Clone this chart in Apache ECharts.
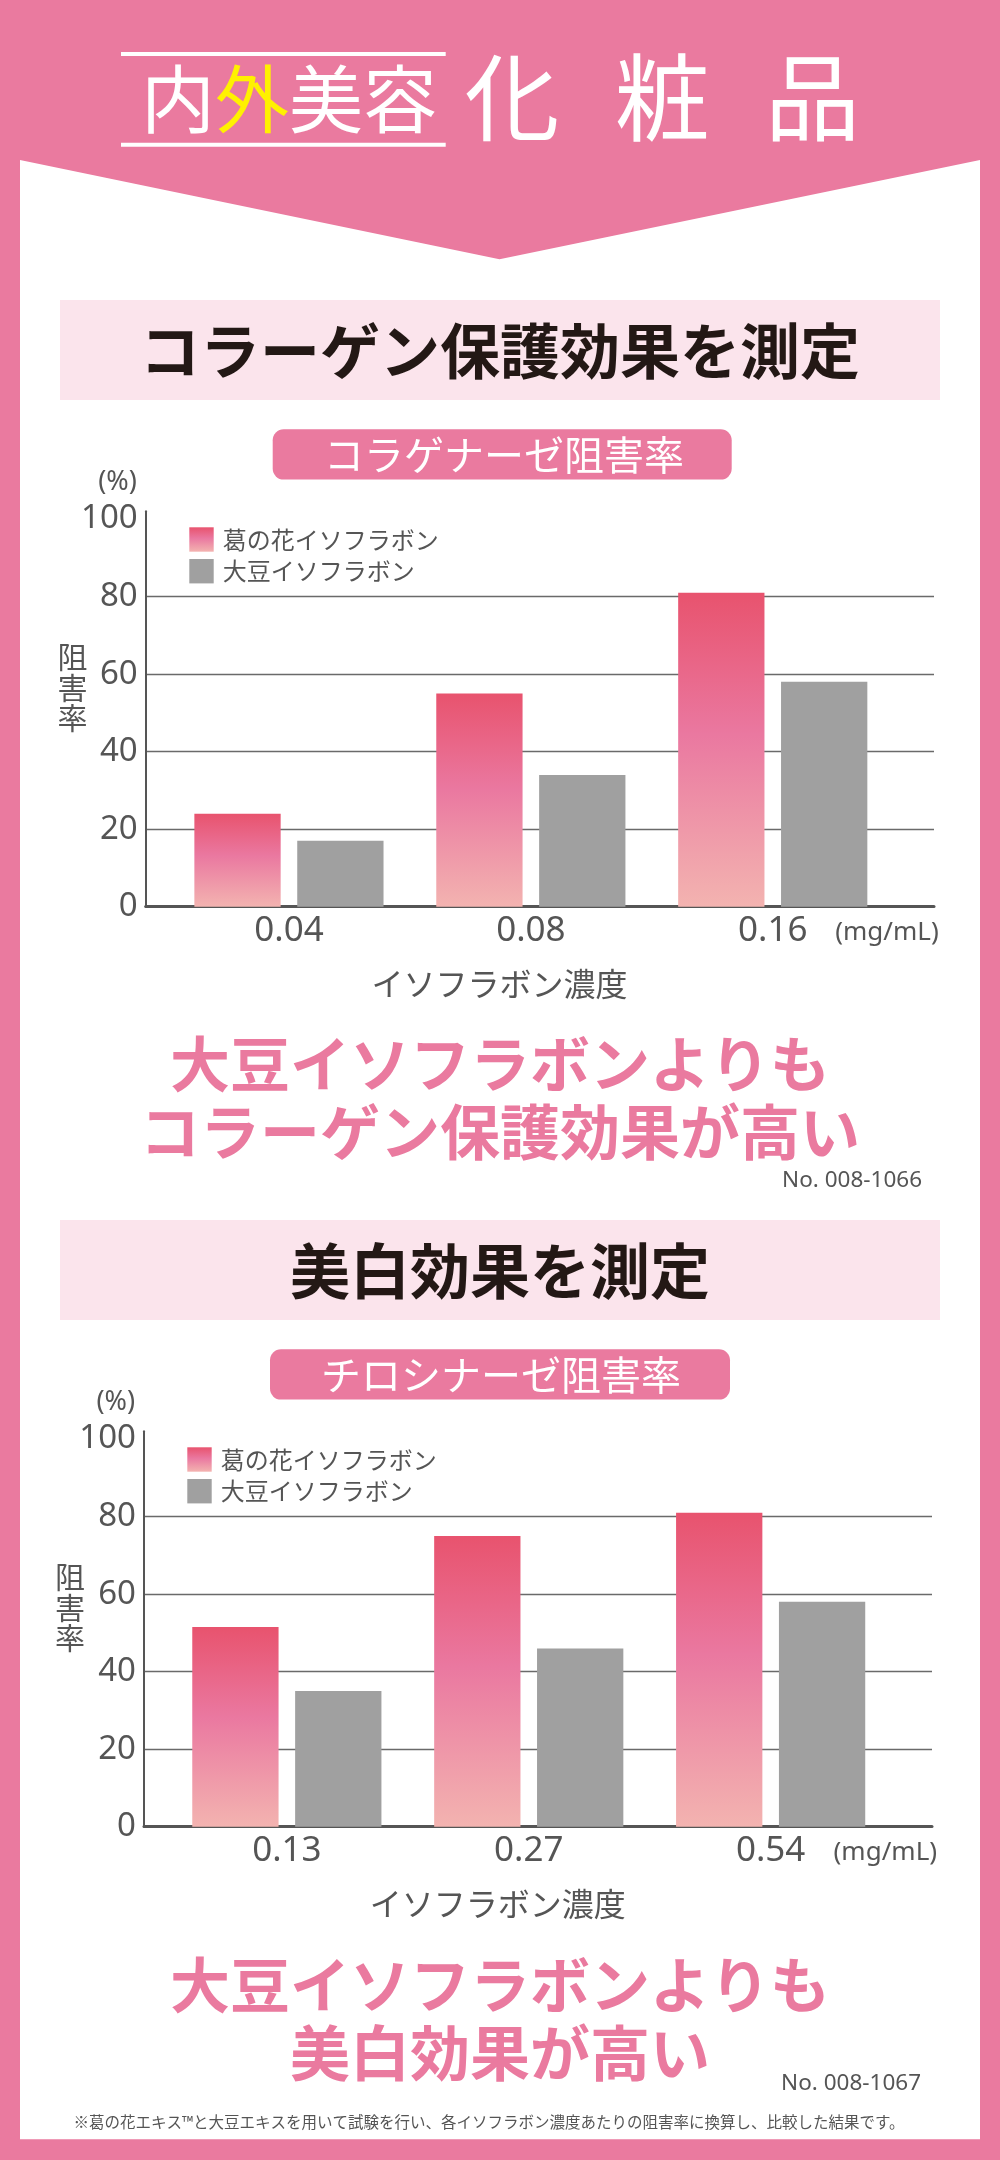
<!DOCTYPE html>
<html><head><meta charset="utf-8">
<script src="https://cdn.jsdelivr.net/npm/echarts@6/dist/echarts.min.js"></script>
<style>html,body{margin:0;padding:0;background:#fff}#c{width:1000px;height:2160px}</style>
</head><body><div id="c"></div>
<script>
// ---- data ----
const categoriesA = ['0.04', '0.08', '0.16'];
const kakkonA = [24, 55, 81];
const soyA = [17, 34, 58];
const categoriesB = ['0.13', '0.27', '0.54'];
const kakkonB = [51.5, 75, 81];
const soyB = [35, 46, 58];
const seriesNames = ['葛の花イソフラボン', '大豆イソフラボン'];
const yMin = 0, yMax = 100, yInterval = 20;
const yTickLabels = ['0', '20', '40', '60', '80', '100'];

// ---- style ----
const PINK = '#EA7A9F';
const GRAY_TXT = '#555555';
const CJK = '"Noto Sans CJK JP", sans-serif';
const LAT = '"Noto Sans", "Noto Sans CJK JP", sans-serif';
const pinkGrad = { type: 'linear', x: 0, y: 0, x2: 0, y2: 1, colorStops: [
  { offset: 0, color: '#E8536E' }, { offset: 0.45, color: '#EA78A0' }, { offset: 1, color: '#F3B3B0' }] };

const panels = [
  { dy: 0, axisLeft: 145.7, axisRight: 934, barLeft: 168, cats: categoriesA, k: kakkonA, s: soyA,
    legendLeft: 189.3, pct: [117.5, 482], yname: [72.5, 687.5], xname: [499.5, 983.5], unit: [887, 933],
    title: 'コラーゲン保護効果を測定', pill: 'コラゲナーゼ阻害率', pillX: 272.7, pillW: 459, pillTextX: 504,
    concl: ['大豆イソフラボンよりも', 'コラーゲン保護効果が高い'], conclY: [1064, 1132.5], no: 'No. 008-1066', noPos: [922, 1180.5] },
  { dy: 920, axisLeft: 144, axisRight: 932, barLeft: 165.9, cats: categoriesB, k: kakkonB, s: soyB,
    legendLeft: 187.3, pct: [115.8, 1402], yname: [70, 1607.5], xname: [497.8, 1904], unit: [885.3, 1853],
    title: '美白効果を測定', pill: 'チロシナーゼ阻害率', pillX: 270, pillW: 460, pillTextX: 501,
    concl: ['大豆イソフラボンよりも', '美白効果が高い'], conclY: [1985, 2053], no: 'No. 008-1067', noPos: [921, 2083.3] }
];
const plotTop = 511.3, plotH = 395.4, yExt = 2, bandW = 725.7;

const grid = [], xAxis = [], yAxis = [], series = [], legend = [];
const graphics = [];
function txt(text, x, y, size, color, extra) {
  return { type: 'text', x: x, y: y, z: 100, style: Object.assign({ text: text, fill: color, fontSize: size,
    fontFamily: CJK, align: 'center', verticalAlign: 'middle', textAlign: 'center', textVerticalAlign: 'middle' }, extra || {}) };
}

// background
graphics.push({ type: 'rect', z: -100, shape: { x: 0, y: 0, width: 1000, height: 2160 }, style: { fill: PINK } });
graphics.push({ type: 'polygon', z: -99, shape: { points: [[20, 160], [499.5, 259.3], [980, 160], [980, 2139.3], [20, 2139.3]] }, style: { fill: '#ffffff' } });
// header
graphics.push({ type: 'rect', z: 50, shape: { x: 121, y: 52, width: 324.7, height: 4 }, style: { fill: '#ffffff' } });
graphics.push({ type: 'rect', z: 50, shape: { x: 121, y: 142.7, width: 324.7, height: 4 }, style: { fill: '#ffffff' } });
graphics.push(txt('内{y|外}美容', 289, 98.5, 74, '#ffffff', { rich: { y: { fill: '#FFF100', fontSize: 74, fontFamily: CJK } } }));
['化', '粧', '品'].forEach(function (ch, i) { graphics.push(txt(ch, 512 + i * 150.3, 97.5, 95, '#ffffff')); });

panels.forEach(function (p, i) {
  const gi = i * 2;
  const top = plotTop + p.dy;
  grid.push({ left: p.axisLeft, top: top, width: p.axisRight - p.axisLeft, height: plotH });
  grid.push({ left: p.barLeft, top: top, width: bandW, height: plotH });
  xAxis.push({ gridIndex: gi, type: 'value', min: 0, max: 1,
    axisLine: { show: true, lineStyle: { color: GRAY_TXT, width: 3 } }, axisTick: { show: false },
    axisLabel: { show: false }, splitLine: { show: false } });
  xAxis.push({ gridIndex: gi + 1, type: 'category', data: p.cats,
    axisLine: { show: false }, axisTick: { show: false },
    axisLabel: { color: GRAY_TXT, fontSize: 35, fontFamily: LAT, margin: 7 } });
  yAxis.push({ gridIndex: gi, type: 'value', min: yMin, max: yMax + yExt, interval: yInterval,
    axisLine: { show: true, lineStyle: { color: GRAY_TXT, width: 2 } }, axisTick: { show: false },
    axisLabel: { color: GRAY_TXT, fontSize: 33, fontFamily: LAT, margin: 8, showMaxLabel: false, padding: [0, 0, 7, 0],
      formatter: function (v) { return v > yMax ? '' : yTickLabels[Math.round(v / yInterval)]; } },
    splitLine: { show: true, lineStyle: { width: 1.3, color: ['rgba(0,0,0,0)', '#6a6a6a', '#6a6a6a', '#6a6a6a', '#6a6a6a', 'rgba(0,0,0,0)', 'rgba(0,0,0,0)'] } } });
  yAxis.push({ gridIndex: gi + 1, type: 'value', min: yMin, max: yMax + yExt, show: false, splitLine: { show: false } });
  series.push({ type: 'bar', name: seriesNames[0], xAxisIndex: gi + 1, yAxisIndex: gi + 1, data: p.k,
    barWidth: 86.3, barGap: '19.2%', itemStyle: { color: pinkGrad } });
  series.push({ type: 'bar', name: seriesNames[1], xAxisIndex: gi + 1, yAxisIndex: gi + 1, data: p.s,
    barWidth: 86.3, barGap: '19.2%', itemStyle: { color: '#A0A0A0' } });
  legend.push({ left: p.legendLeft, top: 527.3 + p.dy, orient: 'vertical', padding: 0, itemWidth: 24.4, itemHeight: 24.4,
    itemGap: 7.3, icon: 'rect', selectedMode: false, data: seriesNames,
    textStyle: { fontSize: 24, color: GRAY_TXT, fontFamily: CJK, padding: [0, 0, 0, 4] } });

  // decorations / texts
  graphics.push({ type: 'rect', z: -50, shape: { x: 60, y: 300 + p.dy, width: 880, height: 100 }, style: { fill: '#FBE4EC' } });
  graphics.push(txt(p.title, 500, 351 + p.dy, 60, '#231815', { fontWeight: 'bold' }));
  graphics.push({ type: 'rect', z: -50, shape: { x: p.pillX, y: 429.3 + p.dy, width: p.pillW, height: 50.3, r: 11 }, style: { fill: PINK } });
  graphics.push(txt(p.pill, p.pillTextX, 455 + p.dy, 40, '#ffffff'));
  graphics.push(txt('(%)', p.pct[0], p.pct[1], 27, GRAY_TXT, { fontFamily: LAT }));
  graphics.push(txt('阻\n害\n率', p.yname[0], p.yname[1], 30, GRAY_TXT, { lineHeight: 30.5 }));
  graphics.push(txt('イソフラボン濃度', p.xname[0], p.xname[1], 32, GRAY_TXT));
  graphics.push(txt('(mg/mL)', p.unit[0], p.unit[1], 26, GRAY_TXT, { fontFamily: LAT }));
  graphics.push(txt(p.concl[0], 500, p.conclY[0], 60, PINK, { fontWeight: 'bold' }));
  graphics.push(txt(p.concl[1], 500, p.conclY[1], 60, PINK, { fontWeight: 'bold' }));
  graphics.push(txt(p.no, p.noPos[0], p.noPos[1], 22.5, GRAY_TXT, { fontFamily: LAT, align: 'right', textAlign: 'right' }));
});
graphics.push(txt('※葛の花エキス™と大豆エキスを用いて試験を行い、各イソフラボン濃度あたりの阻害率に換算し、比較した結果です。', 489, 2122.5, 15.5, GRAY_TXT));

const chart = echarts.init(document.getElementById('c'), null, { renderer: 'canvas' });
chart.setOption({
  animation: false,
  backgroundColor: '#ffffff',
  graphic: { elements: graphics },
  grid: grid, xAxis: xAxis, yAxis: yAxis, legend: legend, series: series
});
</script></body></html>
